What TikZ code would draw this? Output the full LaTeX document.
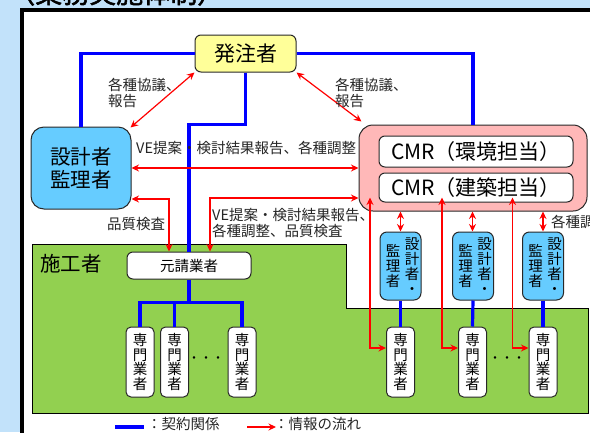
\documentclass[tikz,border=0pt]{standalone}
\usepackage{fontspec}
\setmainfont{Noto Sans CJK JP}
\newfontfamily\titlefont[FakeBold=2]{Noto Sans CJK JP}
\usetikzlibrary{arrows.meta,calc}
\definecolor{bgblue}{RGB}{194,226,250}
\definecolor{boxyellow}{RGB}{255,255,153}
\definecolor{boxblue}{RGB}{102,204,255}
\definecolor{boxpink}{RGB}{255,184,184}
\definecolor{areagreen}{RGB}{146,208,80}
\definecolor{edgegray}{RGB}{40,40,40}
\tikzset{
  blueline/.style={draw=blue, line width=3.2pt},
  redline/.style={draw=red, line width=1.2pt},
  redboth/.style={redline, {Stealth[length=7.5pt,width=7pt]}-{Stealth[length=7.5pt,width=7pt]}},
  redone/.style={redline, -{Stealth[length=7.5pt,width=7pt]}},
  basebox/.style={draw=edgegray, line width=1pt, inner sep=0pt, align=center},
  lbl/.style={inner sep=0pt, font=\fontsize{14.5}{16}\selectfont, align=left, text=black!85},
  senbox/.style={basebox, fill=white, rounded corners=5pt, minimum width=28pt, minimum height=70pt,
     font=\fontsize{14.5}{14.6}\selectfont},
  kbox/.style={basebox, fill=boxblue, rounded corners=7pt, minimum width=41pt, minimum height=68pt},
  vtext/.style={inner sep=0pt, align=center, font=\fontsize{14.5}{15}\selectfont},
  cmrin/.style={basebox, fill=white, rounded corners=6pt, minimum width=194pt, font=\fontsize{21}{22}\selectfont},
}
\begin{document}
\begin{tikzpicture}[x=1pt,y=-1pt]
\useasboundingbox (0,0) rectangle (590,432);
\clip (0,0) rectangle (590,432);
% background
\fill[bgblue] (0,0) rectangle (590,432);
\node[anchor=base west, inner sep=0pt, font=\titlefont\fontsize{27}{27}\selectfont] (title) at (8,3) {（業務実施体制）};
% white panel
\draw[fill=white, line width=4pt] (21.5,9.5) rectangle (620,460);
% green area
\draw[fill=areagreen, line width=0.8pt] (32,244) -- (346,244) -- (346,308) -- (588,308) -- (588,413) -- (32,413) -- cycle;
\node[inner sep=0pt, anchor=west, font=\fontsize{20.5}{22}\selectfont] (seko) at (40,264) {施工者};

% nodes
\node[basebox, fill=boxyellow, rounded corners=6pt, minimum width=101pt, minimum height=37pt,
      font=\fontsize{21}{23}\selectfont] (hacchu) at (245.5,53.5) {発注者};
\node[basebox, fill=boxblue, rounded corners=13pt, minimum width=100pt, minimum height=82pt,
      font=\fontsize{20.5}{23}\selectfont] (sekkei) at (81,168) {設計者\\監理者};
\node[basebox, fill=boxpink, rounded corners=14pt, minimum width=228pt, minimum height=86pt] (cmr) at (473,168) {};
\node[cmrin, minimum height=31pt] (cmr1) at (476,151.5) {CMR（環境担当）};
\node[cmrin, minimum height=29pt] (cmr2) at (476,187.5) {CMR（建築担当）};
\node[basebox, fill=white, rounded corners=6pt, minimum width=124pt, minimum height=27pt,
      font=\fontsize{14.5}{16}\selectfont] (moto) at (189,265.5) {元請業者};

\node[senbox] (s1) at (140,362) {専\\門\\業\\者};
\node[senbox] (s2) at (174.5,362) {専\\門\\業\\者};
\node[senbox] (s3) at (242,362) {専\\門\\業\\者};
\node[inner sep=0pt, font=\fontsize{12}{12}\selectfont] (dots1) at (206,360) {・・・};

\node[senbox] (r1) at (400.5,362) {専\\門\\業\\者};
\node[senbox] (r2) at (472.5,362) {専\\門\\業\\者};
\node[senbox] (r3) at (543,362) {専\\門\\業\\者};
\node[inner sep=0pt, font=\fontsize{12}{12}\selectfont] (dots2) at (507,360) {・・・};

\foreach \i/\x in {1/400.5,2/473,3/543}{
  \node[kbox] (k\i) at (\x,266) {};
  \node[vtext] (k\i a) at ([xshift=11.5pt]k\i.center) {設\\計\\者\\・};
  \node[vtext] (k\i b) at ([xshift=-7.5pt]k\i.center) {監\\理\\者};
}

% blue contract lines
\draw[blueline] (hacchu.west) -| (sekkei.north);
\draw[blueline] (hacchu.east) -| (cmr.north);
\coordinate (bj) at ([yshift=-52pt]hacchu.south);
\draw[blueline] (hacchu.south) -- (bj) -| (moto.north);
\coordinate (tj) at ([yshift=-23pt]moto.south);
\draw[blueline] (moto.south) -- (tj);
\draw[blueline] (s1.north) |- (tj) -| (s3.north);
\draw[blueline] (s2.north) -- (s2.north |- tj);
\foreach \i in {1,2,3}{
  \draw[blueline] (k\i.south) -- (r\i.north);
}

% red information arrows
\draw[redboth] ([xshift=-1pt,yshift=-1pt]sekkei.north east) -- (hacchu.south west);
\draw[redboth] (hacchu.south east) -- ([xshift=3pt,yshift=3pt]cmr.north west);
\draw[redboth] (sekkei.east) -- (cmr.west);
\draw[redboth] ([yshift=-31pt]sekkei.east) -| ([xshift=-20pt]moto.north);
\draw[redboth] ([yshift=-30pt]cmr.west) -| ([xshift=21pt]moto.north);
\foreach \i in {1,2,3}{
  \draw[redboth] (k\i.north -| r\i.north) -- (cmr.south -| r\i.north);
  \draw[redboth] ([yshift=14pt]r\i.west) -| ([xshift=-16pt,yshift=14pt]r\i.west |- cmr.south);
}

% labels
\node[lbl, anchor=west] (lab1) at (108,93) {各種協議、\\報告};
\node[lbl, anchor=west] (lab2) at (335,93) {各種協議、\\報告};
\node[lbl, anchor=west] (lab3) at (136,148) {VE提案・検討結果報告、各種調整};
\node[lbl, anchor=west] (lab4) at (107,224) {品質検査};
\node[lbl, anchor=west] (lab5) at (212,223) {VE提案・検討結果報告、\\各種調整、品質検査};
\node[lbl, anchor=west] (lab6) at (551,222) {各種調整};

% legend
\coordinate (lgb1) at (115,427);
\coordinate (lgb2) at (144,427);
\draw[blueline] (lgb1) -- (lgb2);
\node[lbl, anchor=west] (lgt1) at (147,424) {：契約関係};
\coordinate (lgr1) at (247,427);
\coordinate (lgr2) at (276,427);
\draw[redone] (lgr1) -- (lgr2);
\node[lbl, anchor=west] (lgt2) at (274,424) {：情報の流れ};
\end{tikzpicture}
\end{document}
